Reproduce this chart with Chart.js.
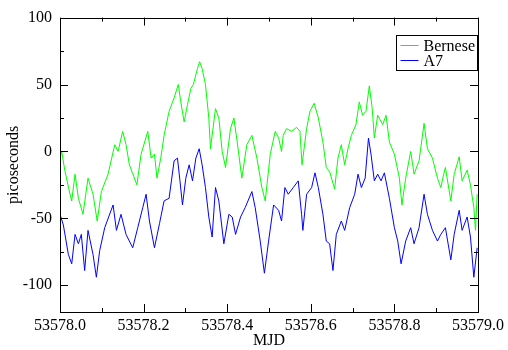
<!DOCTYPE html>
<html>
<head>
<meta charset="utf-8">
<script src="https://cdn.jsdelivr.net/npm/chart.js@4"></script>
<style>
  html, body { margin: 0; padding: 0; background: #fff; }
  #wrap { width: 508px; height: 350px; }
</style>
</head>
<body>
<div id="wrap"><canvas id="clockChart" width="508" height="350"></canvas></div>
<script>
// MJD day 53578, times as fraction of the day
const mjdBase = 53578;

const berneseT = [0.000, 0.004, 0.012, 0.024, 0.028, 0.036, 0.044, 0.055, 0.067, 0.079, 0.089, 0.099, 0.115, 0.131, 0.139, 0.150, 0.158, 0.166, 0.184, 0.194, 0.210, 0.218, 0.226, 0.232, 0.241, 0.249, 0.261, 0.273, 0.283, 0.289, 0.297, 0.305, 0.313, 0.319, 0.329, 0.334, 0.340, 0.348, 0.356, 0.360, 0.372, 0.380, 0.388, 0.396, 0.408, 0.416, 0.424, 0.435, 0.447, 0.459, 0.471, 0.483, 0.491, 0.503, 0.515, 0.523, 0.530, 0.534, 0.542, 0.554, 0.566, 0.574, 0.579, 0.590, 0.598, 0.608, 0.618, 0.629, 0.637, 0.645, 0.657, 0.665, 0.673, 0.681, 0.689, 0.697, 0.708, 0.716, 0.724, 0.732, 0.740, 0.747, 0.752, 0.760, 0.772, 0.780, 0.788, 0.800, 0.812, 0.818, 0.827, 0.839, 0.847, 0.859, 0.871, 0.879, 0.891, 0.903, 0.911, 0.918, 0.922, 0.935, 0.943, 0.955, 0.962, 0.974, 0.982, 0.990, 0.994, 0.998];
const berneseV = [-5, 0, -15, -32, -37, -17, -35, -47, -20, -32, -52, -30, -17, 5, 0, 15, 5, -10, -25, -2, 15, -5, -2, -20, -5, 12, 30, 40, 50, 37, 22, 35, 47, 50, 62, 67, 62, 50, 25, 2, 32, 25, 0, -12, 17, 25, 7, -20, 5, 12, -5, -27, -37, -2, 15, 10, 0, 12, 17, 15, 18, 15, -10, 17, 30, 36, 25, 7, -12, -15, -28, -5, 5, -10, 2, 12, 20, 37, 27, 30, 49, 32, 10, 27, 20, 27, 7, -2, -20, -40, -20, 0, -17, -7, 21, 2, -5, -20, -27, -17, -12, -37, -17, -4, -22, -14, -25, -42, -59, -32];

const a7T = [0.000, 0.008, 0.020, 0.028, 0.036, 0.044, 0.051, 0.059, 0.067, 0.079, 0.087, 0.095, 0.107, 0.127, 0.135, 0.146, 0.158, 0.174, 0.186, 0.198, 0.206, 0.214, 0.226, 0.238, 0.249, 0.261, 0.273, 0.281, 0.287, 0.293, 0.301, 0.309, 0.317, 0.325, 0.333, 0.340, 0.348, 0.356, 0.364, 0.372, 0.380, 0.392, 0.404, 0.412, 0.420, 0.432, 0.443, 0.459, 0.467, 0.479, 0.489, 0.499, 0.511, 0.523, 0.530, 0.538, 0.546, 0.558, 0.570, 0.578, 0.581, 0.590, 0.602, 0.610, 0.618, 0.629, 0.637, 0.645, 0.653, 0.661, 0.673, 0.681, 0.693, 0.705, 0.713, 0.721, 0.730, 0.738, 0.744, 0.752, 0.760, 0.768, 0.776, 0.788, 0.800, 0.808, 0.816, 0.827, 0.839, 0.847, 0.859, 0.871, 0.879, 0.891, 0.903, 0.911, 0.922, 0.935, 0.943, 0.955, 0.962, 0.974, 0.982, 0.990, 0.998];
const a7V = [-47, -55, -77, -84, -62, -69, -62, -89, -59, -77, -94, -74, -57, -40, -59, -47, -62, -72, -57, -42, -32, -52, -72, -54, -37, -35, -7, -5, -22, -40, -20, -10, -22, -5, 2, -10, -27, -49, -64, -27, -37, -69, -47, -49, -62, -49, -42, -30, -42, -67, -91, -67, -40, -44, -52, -27, -32, -27, -22, -47, -59, -32, -27, -16, -27, -47, -67, -69, -89, -62, -52, -59, -42, -32, -17, -27, -20, 10, -2, -22, -17, -22, -16, -35, -57, -67, -84, -67, -57, -69, -57, -32, -47, -59, -67, -62, -57, -81, -62, -44, -59, -49, -64, -94, -72];

const xTicks = [0, 0.2, 0.4, 0.6, 0.8, 1.0];
const yTicks = [-100, -50, 0, 50, 100];

const serif = '"Liberation Serif", "DejaVu Serif", serif';

function toPoints(ts, vs) {
    return ts.map((t, i) => ({ x: mjdBase + t, y: vs[i] }));
}

// xmgrace style frame: inward ticks on all four sides plus the boxed legend
const gracePlugin = {
    id: 'grace',
    afterDraw(chart) {
        const ctx = chart.ctx;
        const a = chart.chartArea;
        const xs = chart.scales.x;
        const ys = chart.scales.y;
        ctx.save();
        ctx.strokeStyle = '#000';
        ctx.lineWidth = 1;
        ctx.strokeRect(Math.round(a.left) + 0.5, Math.round(a.top) + 0.5,
            Math.round(a.right - a.left), Math.round(a.bottom - a.top));

        ctx.beginPath();
        for (let i = 0; i <= 10; i++) {
            const len = i % 2 === 0 ? 8 : 4;
            const px = Math.round(xs.getPixelForValue(mjdBase + i / 10)) + 0.5;
            ctx.moveTo(px, a.bottom); ctx.lineTo(px, a.bottom - len);
            ctx.moveTo(px, a.top); ctx.lineTo(px, a.top + len);
        }
        for (let v = -100; v <= 100; v += 25) {
            const len = v % 50 === 0 ? 8 : 4;
            const py = Math.round(ys.getPixelForValue(v)) + 0.5;
            ctx.moveTo(a.left, py); ctx.lineTo(a.left + len, py);
            ctx.moveTo(a.right, py); ctx.lineTo(a.right - len, py);
        }
        ctx.stroke();

        // legend box
        const bx = 396.5, by = 35.5, bw = 81, bh = 35;
        ctx.fillStyle = '#fff';
        ctx.fillRect(bx, by, bw, bh);
        ctx.strokeRect(bx, by, bw, bh);
        ctx.font = '16px ' + serif;
        ctx.textBaseline = 'middle';
        chart.data.datasets.forEach((ds, i) => {
            const ry = by + 10 + i * 15;
            ctx.strokeStyle = ds.borderColor;
            ctx.beginPath();
            ctx.moveTo(bx + 4, ry); ctx.lineTo(bx + 22, ry);
            ctx.stroke();
            ctx.fillStyle = '#000';
            ctx.fillText(ds.label, bx + 27, ry + 1);
        });
        ctx.restore();
    }
};

const ctx = document.getElementById('clockChart').getContext('2d');
new Chart(ctx, {
    type: 'line',
    data: {
        datasets: [
            { label: 'Bernese', data: toPoints(berneseT, berneseV), borderColor: '#00ff00', borderWidth: 1, pointRadius: 0, tension: 0, fill: false },
            { label: 'A7', data: toPoints(a7T, a7V), borderColor: '#0000ff', borderWidth: 1, pointRadius: 0, tension: 0, fill: false }
        ]
    },
    options: {
        responsive: false,
        animation: false,
        layout: { padding: { top: 14, right: 27, left: 0, bottom: 0 } },
        plugins: { legend: { display: false }, tooltip: { enabled: false } },
        scales: {
            x: {
                type: 'linear',
                min: mjdBase,
                max: mjdBase + 1,
                afterBuildTicks: s => { s.ticks = xTicks.map(t => ({ value: mjdBase + t })); },
                afterFit: s => { s.height = 38; },
                grid: { display: false, drawTicks: false },
                border: { display: false },
                ticks: {
                    padding: 4,
                    color: '#000',
                    maxRotation: 0,
                    font: { family: serif, size: 16 },
                    callback: v => v.toFixed(1)
                },
                title: { display: true, text: 'MJD', color: '#000', padding: 0, font: { family: serif, size: 16 } }
            },
            y: {
                type: 'linear',
                min: -120,
                max: 100,
                afterBuildTicks: s => { s.ticks = yTicks.map(v => ({ value: v })); },
                afterFit: s => { s.width = 60; },
                grid: { display: false, drawTicks: false },
                border: { display: false },
                ticks: {
                    padding: 8,
                    color: '#000',
                    font: { family: serif, size: 16 }
                },
                title: { display: true, text: 'picoseconds', color: '#000', padding: { top: 4, bottom: 0 }, font: { family: serif, size: 16 } }
            }
        }
    },
    plugins: [gracePlugin]
});
</script>
</body>
</html>
